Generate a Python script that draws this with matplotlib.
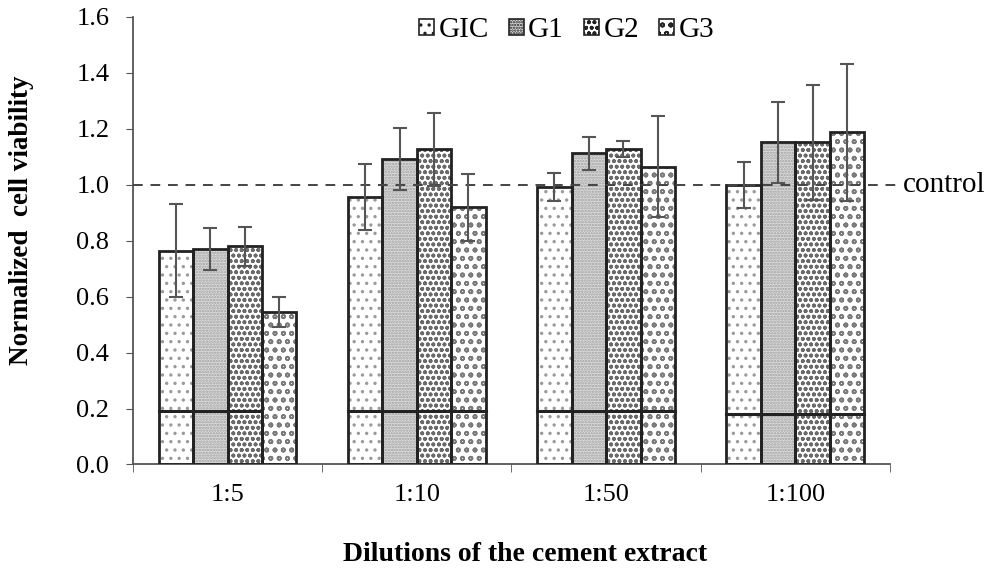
import numpy as np
import matplotlib
matplotlib.use("Agg")
import matplotlib.pyplot as plt
from matplotlib.patches import Patch

plt.rcParams['font.family'] = ['Liberation Serif', 'DejaVu Serif']
plt.rcParams['hatch.linewidth'] = 1.2

dilutions = ["1:5", "1:10", "1:50", "1:100"]
groups = ["GIC", "G1", "G2", "G3"]

viability = {
    "GIC": [0.765, 0.958, 0.993, 1.000],
    "G1":  [0.770, 1.092, 1.112, 1.152],
    "G2":  [0.780, 1.127, 1.128, 1.152],
    "G3":  [0.545, 0.920, 1.065, 1.188],
}
errors = {
    "GIC": [0.165, 0.118, 0.050, 0.083],
    "G1":  [0.076, 0.110, 0.058, 0.145],
    "G2":  [0.070, 0.130, 0.030, 0.205],
    "G3":  [0.055, 0.120, 0.180, 0.245],
}
# dark horizontal line drawn across the bars in each group
inner_line_level = [0.19, 0.19, 0.19, 0.18]
inner_line_nbars = [3, 4, 4, 4]

control_level = 1.0

hatches = {"GIC": "..", "G1": "......", "G2": "ooo", "G3": "oo"}
hatch_colors = {"GIC": "#9a9a9a", "G1": "#a0a0a0", "G2": "#6a6a6a", "G3": "#7a7a7a"}
face_colors = {"GIC": "white", "G1": "#dcdcdc", "G2": "white", "G3": "white"}

fig = plt.figure(figsize=(9.96, 5.73), dpi=100)
ax = fig.add_axes([0.1335, 0.1894, 0.76, 0.781])

x = np.arange(len(dilutions))
w = 0.182
offsets = (np.arange(len(groups)) - 1.5) * w

for g, off in zip(groups, offsets):
    ax.bar(x + off, viability[g], w, color=face_colors[g], hatch=hatches[g],
           edgecolor=hatch_colors[g], linewidth=0, zorder=2)
    ax.bar(x + off, viability[g], w, fill=False, edgecolor="#222222",
           linewidth=2, zorder=3)

for i in range(len(dilutions)):
    left = x[i] + offsets[0] - w / 2
    right = x[i] + offsets[inner_line_nbars[i] - 1] + w / 2
    ax.plot([left, right], [inner_line_level[i]] * 2, color="#222222", lw=2.2, zorder=4)

ax.plot([-0.5, 3.53], [control_level] * 2, ls=(0, (5, 4)), color="#444444",
        lw=1.4, zorder=4, clip_on=False)
ax.text(3.57, control_level, "control", fontsize=21, va="center", ha="left",
        clip_on=False)

for g, off in zip(groups, offsets):
    ax.errorbar(x + off, viability[g], yerr=errors[g], fmt="none", ecolor="#555555",
                elinewidth=1.5, capsize=5, capthick=1.5, zorder=5)

ax.set_xlim(-0.5, 3.5)
ax.set_ylim(0, 1.6)
ax.set_yticks(np.arange(0, 1.61, 0.2))
ax.set_yticklabels([f"{v:.1f}" for v in np.arange(0, 1.61, 0.2)])
ax.set_xticks(x)
ax.set_xticklabels(dilutions)
ax.set_xticks(np.arange(-0.5, 3.6, 1), minor=True)
ax.tick_params(axis="x", which="major", length=0, pad=14, labelsize=19)
ax.tick_params(axis="x", which="minor", length=6, direction="out", color="#555555")
ax.tick_params(axis="y", length=5, direction="out", color="#555555", labelsize=19, pad=12)
for s in ["top", "right"]:
    ax.spines[s].set_visible(False)
for s in ["left", "bottom"]:
    ax.spines[s].set_color("#555555")
    ax.spines[s].set_linewidth(1.3)

ax.set_ylabel("Normalized  cell viability", fontsize=19.5, fontweight="bold", va="center")
ax.yaxis.set_label_coords(-0.147, 0.546)
ax.set_xlabel("Dilutions of the cement extract", fontsize=20, fontweight="bold", va="center")
ax.xaxis.set_label_coords(0.518, -0.202)

handles = [Patch(facecolor=face_colors[g], hatch=hatches[g], edgecolor="#222222",
                 linewidth=1.2) for g in groups]
ax.legend(handles, groups, loc="center", bbox_to_anchor=(0.573, 0.97), ncol=4,
          frameon=False, fontsize=21, handlelength=0.5, handleheight=0.5,
          handletextpad=0.15, columnspacing=0.7)

fig.savefig("out.png", dpi=100)
